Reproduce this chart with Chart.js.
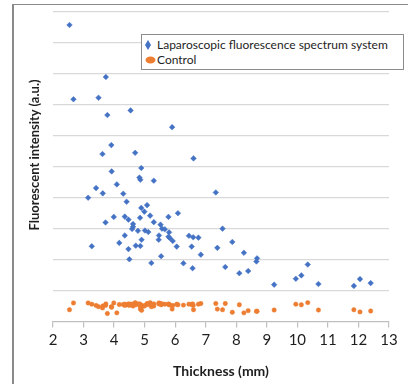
<!DOCTYPE html>
<html>
<head>
<meta charset="utf-8">
<script src="https://cdn.jsdelivr.net/npm/chart.js@4"></script>
<style>
  body { margin: 0; background: #fff; }
  #wrap { position: relative; width: 408px; height: 384px; overflow: hidden; font-family: Lato, "Open Sans", sans-serif; }
  #frameLeft { position: absolute; left: 12px; top: 4px; width: 1.5px; height: 380px; background: #8a8a8a; }
  #frameTop { position: absolute; left: 12px; top: 3.5px; width: 396px; height: 1.5px; background: #8a8a8a; }
  #ytitle { position: absolute; left: 34px; top: 155px; transform: translate(-50%, -50%) rotate(-90deg);
            white-space: nowrap; font-weight: bold; font-size: 13px; color: #1e1e1e; }
  #legend { position: absolute; left: 141px; top: 34px; width: 261px; height: 34px; border: 1px solid #8c8c8c;
            background: #fff; font-size: 12px; color: #1e1e1e; }
  .row { position: absolute; left: 0; height: 14px; line-height: 14px; white-space: nowrap; }
  .row svg { position: absolute; left: 0; top: 0; }
  .row span { position: absolute; left: 15px; }
</style>
</head>
<body>
<div id="wrap">
  <canvas id="chart1" width="408" height="384"></canvas>
  <div id="frameLeft"></div>
  <div id="frameTop"></div>
  <div id="ytitle">Fluorescent intensity (a.u.)</div>
  <div id="legend">
    <div class="row" style="top:3px">
      <svg width="14" height="14"><polygon points="6,2 9,7 6,12 3,7" fill="#4472c4"/></svg>
      <span>Laparoscopic fluorescence spectrum system</span>
    </div>
    <div class="row" style="top:18px">
      <svg width="14" height="14"><ellipse cx="8.5" cy="7" rx="5" ry="3.5" fill="#ed7d31"/></svg>
      <span>Control</span>
    </div>
  </div>
</div>
<script>
// thickness of each sample (mm), shared by both series
var thickness = [2.54, 2.67, 3.49, 3.73, 3.78, 4.54, 5.90, 3.91, 3.62, 4.69,
                 6.60, 4.89, 3.92, 4.83, 4.86, 5.30, 3.15, 3.41, 3.63, 4.09,
                 4.30, 4.41, 5.08, 4.89, 4.99, 3.72, 3.99, 4.35, 4.47, 4.85,
                 5.18, 5.30, 5.78, 6.09, 4.62, 4.62, 4.59, 4.78, 5.01, 5.12,
                 5.52, 5.57, 5.66, 5.80, 4.35, 5.47, 5.78, 5.83, 5.46, 5.92,
                 4.90, 4.17, 3.27, 4.71, 4.86, 4.47, 6.05, 6.45, 6.59, 6.76,
                 6.54, 6.84, 5.54, 4.50, 5.22, 6.27, 6.57, 7.33, 7.55, 7.38,
                 7.87, 7.64, 8.10, 8.25, 8.39, 8.66, 8.68, 9.24, 9.95, 10.13,
                 10.34, 10.69, 11.85, 12.05, 12.40];

// laparoscopic fluorescence spectrum system readings
var laparoscopic = [9.58, 7.18, 7.23, 7.90, 6.67, 6.82, 6.28, 5.70, 5.41, 5.45,
                    5.27, 4.96, 4.85, 4.65, 4.58, 4.55, 4.00, 4.31, 4.14, 4.43,
                    4.13, 3.87, 3.76, 3.67, 3.55, 3.20, 3.38, 3.39, 3.29, 3.35,
                    3.42, 3.21, 3.38, 3.50, 3.15, 3.06, 2.99, 2.93, 2.94, 2.89,
                    3.13, 3.00, 2.98, 2.88, 2.78, 2.78, 2.74, 2.69, 2.64, 2.60,
                    2.64, 2.54, 2.43, 2.45, 2.44, 2.34, 2.42, 2.77, 2.72, 2.71,
                    2.42, 2.16, 2.11, 2.01, 1.89, 1.88, 1.72, 4.17, 3.00, 2.38,
                    2.57, 1.76, 1.56, 2.22, 1.63, 1.94, 2.04, 1.19, 1.38, 1.49,
                    1.84, 1.21, 1.15, 1.37, 1.24];

// control readings
var control = [0.38, 0.60, 0.48, 0.57, 0.26, 0.56, 0.40, 0.48, 0.44, 0.61,
               0.38, 0.53, 0.46, 0.57, 0.40, 0.57, 0.60, 0.52, 0.50, 0.28,
               0.55, 0.54, 0.58, 0.45, 0.50, 0.52, 0.60, 0.56, 0.57, 0.55,
               0.61, 0.50, 0.56, 0.54, 0.55, 0.50, 0.56, 0.57, 0.52, 0.55,
               0.58, 0.57, 0.56, 0.55, 0.52, 0.60, 0.56, 0.53, 0.57, 0.52,
               0.36, 0.55, 0.56, 0.54, 0.48, 0.55, 0.56, 0.56, 0.52, 0.56,
               0.55, 0.58, 0.54, 0.52, 0.48, 0.53, 0.57, 0.58, 0.38, 0.40,
               0.30, 0.58, 0.54, 0.28, 0.35, 0.33, 0.33, 0.37, 0.56, 0.54,
               0.61, 0.37, 0.38, 0.31, 0.34];

var xTicks = [2, 3, 4, 5, 6, 7, 8, 9, 10, 11, 12, 13];

function toPoints(ys) {
  return thickness.map(function (t, i) { return { x: t, y: ys[i] }; });
}

var ctx = document.getElementById('chart1').getContext('2d');
var chart = new Chart(ctx, {
  type: 'scatter',
  data: {
    datasets: [{
      label: 'Laparoscopic fluorescence spectrum system',
      data: toPoints(laparoscopic),
      pointStyle: 'rectRot',
      pointRadius: 2.8,
      backgroundColor: '#4472c4',
      borderColor: '#4472c4',
      borderWidth: 0.5
    }, {
      label: 'Control',
      data: toPoints(control),
      pointStyle: 'circle',
      pointRadius: 2.2,
      backgroundColor: '#ed7d31',
      borderColor: '#ed7d31',
      borderWidth: 0.5
    }]
  },
  options: {
    responsive: false,
    animation: false,
    layout: { padding: { left: 0, right: 19, top: 12, bottom: 0 } },
    plugins: { legend: { display: false }, tooltip: { enabled: false } },
    scales: {
      x: {
        type: 'linear',
        min: 2,
        max: 13,
        afterBuildTicks: function (scale) {
          scale.ticks = xTicks.map(function (v) { return { value: v }; });
        },
        afterFit: function (scale) { scale.height = 62.5; },
        grid: { drawOnChartArea: false, drawTicks: true, tickLength: 6, color: '#bfbfbf', lineWidth: 1.2 },
        border: { color: '#bfbfbf', width: 1.2 },
        ticks: { padding: 4, color: '#1e1e1e', font: { family: 'Lato', size: 15 } },
        title: {
          display: true,
          text: 'Thickness (mm)',
          color: '#1e1e1e',
          font: { family: 'Lato', size: 14, weight: 'bold' },
          padding: { top: 0, bottom: 4 }
        }
      },
      y: {
        min: 0,
        max: 10,
        afterFit: function (scale) { scale.width = 53; },
        ticks: { display: false, stepSize: 1 },
        grid: {
          drawTicks: false,
          color: function (c) { return c.tick.value === 0 ? 'rgba(0,0,0,0)' : '#d9d9d9'; },
          lineWidth: 1.3
        },
        border: { display: false }
      }
    }
  }
});
</script>
</body>
</html>
